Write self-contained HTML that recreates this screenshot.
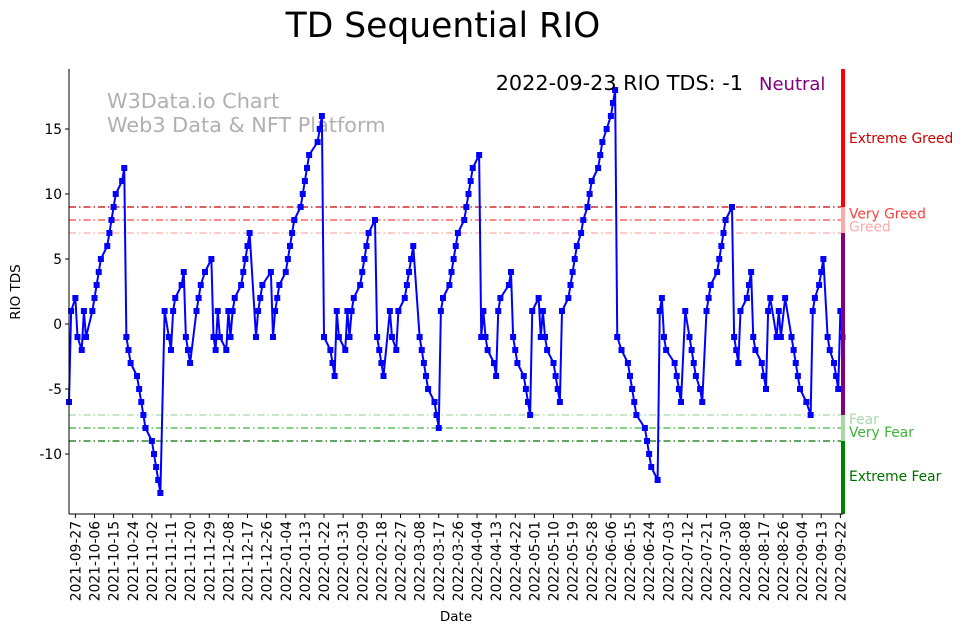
<!DOCTYPE html>
<html><head><meta charset="utf-8"><style>
html,body{margin:0;padding:0;background:#fff;}
svg{display:block;font-family:"DejaVu Sans","Liberation Sans",sans-serif;}
</style></head><body>
<svg id="chart" width="962" height="633" viewBox="0 0 962 633">
<text x="443" y="37" text-anchor="middle" font-size="34.5" fill="#000">TD Sequential RIO</text>
<text x="107" y="108" font-size="20.8" fill="#b0b0b0">W3Data.io Chart</text>
<text x="107" y="132" font-size="20.8" fill="#b0b0b0">Web3 Data &amp; NFT Platform</text>
<g id="levels"></g>
<g id="series"></g>
<g id="zonebar"></g>
<g id="yaxis"></g>
<g id="xaxis"></g>
<text x="743" y="90" text-anchor="end" font-size="20.8" fill="#000">2022-09-23 RIO TDS: -1</text>
<text x="759" y="90" font-size="18" fill="#800080">Neutral</text>
<text x="20" y="292" transform="rotate(-90 20 292)" text-anchor="middle" font-size="13.5" fill="#000">RIO TDS</text>
<text x="456" y="621" text-anchor="middle" font-size="13.5" fill="#000">Date</text>
</svg>
<script>
// data: day offsets from 2021-09-24 and TD values
const days = [0,1,3,4,6,7,8,11,12,13,14,15,18,19,20,21,22,25,26,27,28,29,32,33,34,35,36,39,40,41,42,43,
45,47,48,49,50,53,54,55,56,57,60,61,62,64,67,68,69,70,71,74,75,76,77,78,81,82,83,84,85,88,89,90,91,95,96,97,98,99,102,103,104,105,106,109,110,111,112,113,117,118,119,120,
123,124,125,126,127,130,131,132,133,134,137,138,139,140,141,144,145,146,147,148,151,152,154,155,158,159,160,161,162,165,166,167,168,169,172,173,174,175,176,179,180,181,182,183,186,187,188,189,190,193,194,195,196,197,200,201,202,203,207,208,209,210,211,214,215,216,217,218,221,222,223,224,225,228,229,230,231,232,235,236,237,238,239,241,242,244,245,246,249,250,251,253,255,256,257,258,260,263,264,265,266,267,271,272,273,274,277,278,279,280,281,285,286,287,288,290,292,293,294,295,297,298,300,301,302,305,306,307,308,309,312,313,314,315,316,319,320,321,322,323,326,327,328,329,330,333,334,335,337,340,341,342,343,344,347,349,350,351,353,354,355,357,358,360,361,362,363,364];
const values = [-6,1,2,-1,-2,1,-1,1,2,3,4,5,6,7,8,9,10,11,12,-1,-2,-3,-4,-5,-6,-7,-8,-9,-10,-11,-12,-13,
1,-1,-2,1,2,3,4,-1,-2,-3,1,2,3,4,5,-1,-2,1,-1,-2,1,-1,1,2,3,4,5,6,7,-1,1,2,3,4,-1,1,2,3,4,5,6,7,8,9,10,11,12,13,14,15,16,-1,
-2,-3,-4,1,-1,-2,1,-1,1,2,3,4,5,6,7,8,-1,-2,-3,-4,1,-1,-2,1,2,3,4,5,6,-1,-2,-3,-4,-5,-6,-7,-8,1,2,3,4,5,6,7,8,9,10,11,12,13,-1,1,-1,-2,-3,-4,1,2,3,4,-1,-2,-3,-4,-5,-6,-7,1,2,-1,1,-1,-2,-3,-4,-5,-6,1,2,3,4,5,6,7,8,9,10,11,12,13,14,15,16,17,18,-1,-2,-3,-4,-5,-6,-7,-8,-9,-10,-11,-12,1,2,-1,-2,-3,-4,-5,-6,1,-1,-2,-3,-4,-5,-6,1,2,3,4,5,6,7,8,9,-1,-2,-3,1,2,3,4,-1,-2,-3,-4,-5,1,2,-1,1,-1,2,-1,-2,-3,-4,-5,-6,-7,1,2,3,4,5,-1,-2,-3,-4,-5,1,-1];
const yTicks = [-10,-5,0,5,10,15];
const levelValues = [9,8,7,-7,-8,-9];
const levelColors = ["#cc0000","#ff4040","#ffaaaa","#a8d8a8","#3cb43c","#007000"];
const levelLabels = ["Extreme Greed","Very Greed","Greed","Fear","Very Fear","Extreme Fear"];
const labelValues = [14.3,8.5,7.5,-7.3,-8.3,-11.7];
const startDate = Date.UTC(2021,8,24);
const tickStartDay = 3, tickStep = 9, tickCount = 41;

const X0=69, X1=843, Y0=514, YT=69, DPX=2.125;
const xs = d => X0 + d*DPX;
const ys = v => 324 - v*13;
const NS="http://www.w3.org/2000/svg";
function mk(tag, attrs, parent){const e=document.createElementNS(NS,tag);for(const k in attrs)e.setAttribute(k,attrs[k]);parent.appendChild(e);return e;}

const lv=document.getElementById('levels');
levelValues.forEach((v,i)=>{
  const l=mk('line',{x1:X0,x2:X1,y1:ys(v),y2:ys(v),stroke:levelColors[i],'stroke-width':1.2,'stroke-dasharray':'7,3,1.5,3'},lv);
  
  
  const t=mk('text',{x:849,y:ys(labelValues[i])+5,'font-size':13.8,fill:levelColors[i]},lv);
  t.textContent=levelLabels[i];
  
  
});

const zb=document.getElementById('zonebar');
const zones=[[20,9,"#ff0000"],[9,7,"#ffaaaa"],[7,-7,"#800080"],[-7,-9,"#a8d8a8"],[-9,-15,"#008000"]];
zones.forEach((z,i)=>{
  const top=Math.max(YT,ys(z[0])), bot=Math.min(Y0,ys(z[1]));
  const r=mk('rect',{x:841,y:top,width:4,height:bot-top,fill:z[2]},zb);
  
  
});

const sg=document.getElementById('series');
const pts=days.map((d,i)=>xs(d).toFixed(2)+','+ys(values[i]).toFixed(2)).join(' ');
const pl=mk('polyline',{points:pts,fill:'none',stroke:'#0000ff','stroke-width':2,'stroke-linejoin':'round'},sg);


days.forEach((d,i)=>{
  const r=mk('rect',{x:xs(d)-3,y:ys(values[i])-3,width:6,height:6,fill:'#0000ff'},sg);
  
  
});

const ya=document.getElementById('yaxis');
mk('line',{x1:X0,x2:X0,y1:YT,y2:Y0,stroke:'#000','stroke-width':1},ya);
yTicks.forEach(v=>{
  mk('line',{x1:X0-4,x2:X0,y1:ys(v),y2:ys(v),stroke:'#000'},ya);
  const t=mk('text',{x:X0-7,y:ys(v)+5,'text-anchor':'end','font-size':13.8},ya);
  t.textContent=v;
  
  
});

const xa=document.getElementById('xaxis');
mk('line',{x1:X0,x2:X1,y1:Y0,y2:Y0,stroke:'#000','stroke-width':1},xa);
for(let k=0;k<tickCount;k++){
  const d=tickStartDay+k*tickStep, x=xs(d);
  mk('line',{x1:x,x2:x,y1:Y0,y2:Y0+4,stroke:'#000'},xa);
  const dt=new Date(startDate+d*86400000);
  const lab=dt.toISOString().slice(0,10);
  const t=mk('text',{x:x+5,y:Y0+7,'text-anchor':'end','font-size':13.8,transform:`rotate(-90 ${x+5} ${Y0+7})`},xa);
  t.textContent=lab;
  
  
}
</script>
</body></html>
